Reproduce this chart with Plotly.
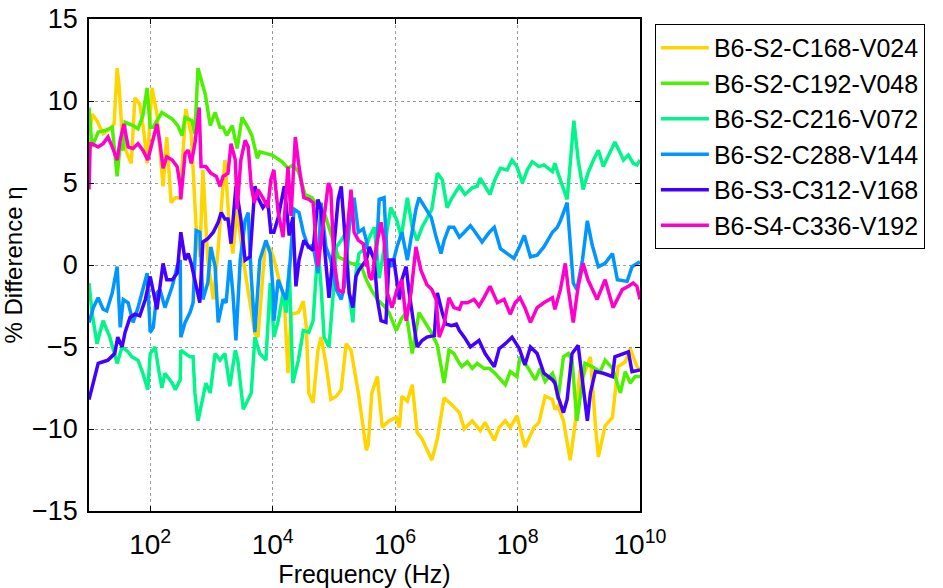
import plotly.graph_objects as go

# log10(frequency in Hz) and % difference values
lf_c168 = [1.00,1.05,1.13,1.23,1.34,1.41,1.46,1.49,1.54,1.60,1.69,1.75,1.83,1.90,1.95,2.03,2.11,2.16,2.21,2.27,2.34,2.41,2.49,2.58,2.67,2.75,2.81,2.86,2.94,3.03,3.11,3.22,3.29,3.35,3.42,3.52,3.71,3.76,3.88,3.96,4.01,4.09,4.19,4.25,4.30,4.42,4.50,4.55,4.59,4.66,4.74,4.79,4.87,4.95,5.04,5.12,5.20,5.28,5.40,5.53,5.56,5.62,5.71,5.79,5.90,6.02,6.07,6.11,6.20,6.28,6.36,6.44,6.52,6.60,6.69,6.80,6.92,7.05,7.13,7.26,7.39,7.47,7.62,7.70,7.80,7.88,7.99,8.12,8.27,8.35,8.45,8.57,8.61,8.66,8.75,8.86,8.94,9.02,9.07,9.19,9.27,9.32,9.43,9.55,9.64,9.76,9.84,9.95,10.00]
v_c168 = [7.5,9.2,8.8,8.0,8.3,8.6,12.0,11.0,8.0,7.0,6.2,10.2,9.8,8.0,6.2,10.8,9.2,7.0,4.8,7.8,3.8,4.1,4.1,9.5,8.0,2.3,0.5,5.8,0.3,-2.1,1.0,6.4,2.5,0.7,3.4,0.3,-4.2,-4.4,1.3,1.0,0.5,-0.7,-2.1,-6.6,-3.0,-2.9,-2.2,-3.8,-7.8,-8.4,-5.2,-4.4,-6.0,-8.2,-8.0,-7.6,-4.8,-5.2,-7.8,-11.3,-11.0,-7.8,-6.8,-9.9,-9.5,-9.3,-9.9,-8.0,-8.3,-7.3,-10.2,-10.6,-11.2,-11.9,-10.6,-8.1,-8.5,-9.0,-10.0,-9.5,-10.1,-9.6,-10.7,-9.9,-9.5,-9.9,-9.2,-11.1,-9.9,-9.6,-8.0,-8.2,-8.8,-8.6,-9.5,-11.9,-9.7,-6.4,-6.8,-5.6,-9.7,-11.7,-9.8,-9.3,-6.2,-5.9,-5.1,-6.2,-6.4]

lf_c192 = [1.00,1.05,1.15,1.26,1.38,1.46,1.51,1.56,1.59,1.72,1.80,1.88,1.95,2.00,2.05,2.19,2.36,2.45,2.52,2.57,2.68,2.73,2.78,2.90,2.98,3.06,3.14,3.19,3.25,3.34,3.42,3.50,3.58,3.66,3.75,3.79,3.99,4.15,4.25,4.33,4.42,4.53,4.64,4.76,4.86,5.07,5.23,5.28,5.44,5.53,5.61,5.71,5.82,5.90,6.02,6.10,6.18,6.28,6.39,6.47,6.59,6.69,6.80,6.88,6.96,7.05,7.09,7.18,7.26,7.34,7.45,7.54,7.63,7.80,7.88,7.99,8.04,8.16,8.29,8.37,8.45,8.57,8.61,8.66,8.75,8.83,8.89,8.97,9.02,9.10,9.22,9.35,9.43,9.55,9.68,9.76,9.84,9.92,10.00]
v_c192 = [9.6,7.2,8.1,8.2,8.4,5.4,7.4,7.0,8.7,8.5,8.3,9.1,10.8,8.4,8.4,9.3,8.9,8.5,7.9,9.0,8.8,8.0,12.0,10.4,8.5,9.3,8.4,8.4,7.9,8.5,7.1,9.0,8.5,7.9,6.5,6.9,6.7,6.3,5.9,6.1,5.7,4.3,4.1,3.5,3.0,0.5,0.2,0.1,0.0,-0.9,-1.5,-2.1,-2.5,-2.9,-4.0,-3.3,-2.9,-5.4,-2.9,-3.4,-4.1,-4.9,-7.2,-5.2,-5.4,-6.0,-6.2,-5.9,-6.3,-6.0,-6.3,-6.3,-6.6,-7.3,-6.5,-6.8,-5.6,-6.2,-7.0,-6.3,-7.1,-6.6,-7.0,-8.2,-5.6,-5.4,-5.8,-9.5,-8.2,-6.0,-6.2,-6.5,-5.8,-6.3,-7.8,-6.5,-7.2,-6.8,-6.8]

lf_c216 = [1.00,1.05,1.13,1.23,1.34,1.46,1.54,1.64,1.70,1.80,1.88,1.96,2.00,2.08,2.13,2.19,2.24,2.36,2.41,2.49,2.50,2.57,2.65,2.70,2.73,2.78,2.83,2.91,2.98,3.06,3.14,3.22,3.30,3.39,3.43,3.52,3.60,3.65,3.71,3.79,3.89,3.96,3.97,4.02,4.09,4.17,4.22,4.27,4.33,4.42,4.50,4.59,4.66,4.74,4.79,4.84,4.92,4.99,5.04,5.12,5.20,5.25,5.31,5.36,5.41,5.53,5.58,5.66,5.74,5.93,6.03,6.10,6.20,6.28,6.36,6.44,6.52,6.60,6.69,6.77,6.85,6.93,7.05,7.14,7.26,7.34,7.39,7.47,7.55,7.63,7.72,7.83,7.91,7.99,8.08,8.16,8.24,8.35,8.43,8.57,8.61,8.66,8.73,8.81,8.92,8.99,9.07,9.15,9.24,9.32,9.40,9.48,9.59,9.68,9.73,9.81,9.89,9.95,10.00]
v_c216 = [-1.1,-2.9,-4.8,-3.4,-4.4,-6.0,-5.0,-5.3,-5.6,-5.8,-6.6,-7.6,-5.4,-5.0,-6.2,-7.5,-6.6,-7.2,-7.6,-7.0,-5.2,-5.4,-5.6,-5.6,-7.8,-9.5,-8.7,-7.2,-7.8,-5.4,-5.8,-5.4,-7.4,-5.2,-5.8,-8.8,-8.2,-7.8,-4.4,-5.4,-5.8,-1.1,-1.3,-4.4,-3.4,-1.7,-2.9,-0.1,-7.2,-5.8,-4.0,-4.1,-3.4,1.1,-1.3,-4.4,-5.0,-1.7,1.1,1.5,2.0,-1.7,-3.5,-0.5,0.7,1.1,1.7,2.3,-0.8,3.5,2.7,1.7,4.1,2.3,1.5,2.3,2.9,3.4,5.6,5.2,3.5,4.1,4.8,4.3,4.7,4.8,5.3,4.8,4.3,5.2,5.9,5.8,6.4,6.0,5.0,5.8,6.3,6.0,6.1,5.7,6.2,5.6,4.8,4.0,8.8,6.4,4.6,5.6,6.4,7.0,6.0,6.6,7.5,6.8,6.4,6.7,6.2,6.1,6.4]

lf_c288 = [1.00,1.07,1.15,1.23,1.29,1.38,1.46,1.51,1.56,1.64,1.72,1.80,1.95,2.00,2.05,2.11,2.16,2.24,2.36,2.44,2.49,2.50,2.57,2.65,2.70,2.75,2.81,2.86,2.94,2.99,3.06,3.11,3.19,3.24,3.30,3.35,3.40,3.47,3.55,3.60,3.65,3.71,3.79,3.89,3.96,4.01,4.02,4.09,4.17,4.22,4.27,4.35,4.43,4.50,4.58,4.66,4.74,4.79,4.87,4.95,5.04,5.12,5.17,5.25,5.33,5.40,5.48,5.53,5.54,5.61,5.69,5.74,5.82,5.87,5.95,6.03,6.11,6.20,6.26,6.34,6.39,6.47,6.59,6.67,6.75,6.80,6.88,6.96,7.05,7.13,7.23,7.31,7.42,7.54,7.62,7.72,7.80,7.94,8.03,8.11,8.21,8.32,8.43,8.57,8.65,8.70,8.81,8.86,8.91,8.97,9.06,9.14,9.22,9.32,9.43,9.55,9.63,9.79,9.87,10.00]
v_c288 = [-3.5,-2.6,-2.0,-2.7,-2.8,-1.7,-0.1,-3.8,-2.1,-2.3,-3.5,-2.6,-0.5,-4.1,-3.8,-1.7,-1.5,-2.6,-1.3,-0.1,0.3,-4.4,-3.5,-2.9,-2.3,2.1,2.0,-2.1,-1.1,1.1,-0.1,-3.5,-2.1,-2.3,0.3,-1.7,-4.6,0.3,2.7,3.2,-0.7,-4.1,0.3,1.5,0.7,-1.7,-3.4,-0.9,-1.7,-2.1,-0.5,3.4,3.2,2.0,1.1,1.2,-0.5,3.8,1.1,0.3,-1.5,-2.1,-1.3,2.3,4.1,2.0,2.2,1.5,1.1,0.7,0.3,4.0,4.1,0.3,-0.1,1.1,2.0,0.3,1.7,3.4,4.1,3.6,2.9,1.7,0.7,1.5,2.3,2.3,1.7,2.0,2.4,2.0,1.4,2.0,2.3,1.0,0.8,0.4,1.1,1.8,0.5,0.6,1.1,2.0,2.3,2.7,3.8,1.1,-1.1,-1.5,0.3,2.7,1.2,-0.1,0.1,0.7,-0.9,-1.0,-0.1,0.2]

lf_c312 = [1.00,1.07,1.15,1.23,1.31,1.42,1.47,1.54,1.59,1.67,1.75,1.83,1.92,2.00,2.05,2.11,2.16,2.21,2.27,2.36,2.44,2.49,2.50,2.57,2.62,2.67,2.75,2.81,2.86,2.94,3.03,3.11,3.16,3.22,3.27,3.32,3.40,3.48,3.55,3.63,3.71,3.76,3.84,3.92,3.97,4.02,4.09,4.19,4.27,4.33,4.38,4.43,4.51,4.59,4.66,4.74,4.79,4.87,4.92,5.00,5.07,5.12,5.17,5.25,5.31,5.36,5.41,5.53,5.58,5.66,5.71,5.77,5.85,5.90,5.98,6.07,6.11,6.18,6.23,6.28,6.36,6.44,6.52,6.64,6.69,6.77,6.83,6.92,7.00,7.05,7.13,7.23,7.37,7.47,7.62,7.70,7.80,7.91,8.03,8.12,8.21,8.32,8.43,8.57,8.61,8.66,8.75,8.81,8.89,8.99,9.06,9.14,9.19,9.27,9.40,9.55,9.59,9.73,9.81,9.87,10.00]
v_c312 = [-8.2,-7.2,-6.0,-5.9,-5.8,-5.4,-4.4,-5.0,-4.1,-3.2,-3.0,-3.1,-2.1,-0.7,-1.7,-2.7,-1.3,0.1,-0.9,-0.9,-0.5,1.5,2.0,0.3,0.7,0.1,-1.3,-2.3,1.4,1.6,2.0,2.6,3.2,2.8,2.8,1.3,4.8,2.8,0.3,0.5,4.8,4.1,3.5,3.9,2.0,2.0,2.9,4.8,1.8,2.9,-1.3,0.3,1.5,1.1,0.9,4.0,3.4,0.3,-2.0,1.1,4.0,4.8,2.3,-1.7,-2.6,-0.7,-0.3,0.3,1.1,0.3,-2.1,-3.4,-3.5,0.3,0.3,-2.1,-0.9,-0.1,-1.7,-2.9,-5.0,-4.6,-4.4,-4.3,-1.7,-2.9,-3.6,-3.7,-3.6,-4.0,-4.4,-5.0,-4.6,-5.4,-6.2,-5.1,-4.8,-4.4,-5.1,-6.1,-5.0,-5.4,-6.6,-7.0,-7.2,-8.0,-9.0,-8.2,-5.4,-4.9,-7.0,-9.5,-7.8,-6.5,-6.6,-6.8,-5.6,-5.4,-5.3,-6.5,-6.4]

lf_c336 = [1.00,1.02,1.05,1.15,1.23,1.31,1.38,1.46,1.51,1.57,1.64,1.72,1.80,1.88,1.96,2.05,2.11,2.16,2.21,2.27,2.36,2.44,2.49,2.50,2.57,2.62,2.67,2.73,2.80,2.83,2.91,2.99,3.08,3.14,3.19,3.27,3.32,3.39,3.42,3.48,3.55,3.60,3.65,3.70,3.76,3.84,3.92,3.97,4.02,4.09,4.17,4.25,4.30,4.37,4.43,4.51,4.59,4.66,4.74,4.82,4.91,4.95,5.00,5.07,5.15,5.20,5.28,5.33,5.40,5.48,5.53,5.54,5.58,5.62,5.69,5.77,5.82,5.87,5.95,6.03,6.11,6.18,6.26,6.34,6.42,6.52,6.60,6.67,6.72,6.80,6.88,6.96,7.05,7.09,7.18,7.29,7.37,7.45,7.55,7.67,7.78,7.88,7.96,8.04,8.12,8.21,8.32,8.43,8.57,8.61,8.70,8.78,8.83,8.91,8.99,9.07,9.15,9.30,9.43,9.56,9.71,9.81,9.89,9.95,10.00]
v_c336 = [4.6,7.4,7.4,7.2,7.4,7.8,7.2,6.4,7.6,8.6,7.2,7.1,7.4,7.0,6.4,7.8,8.6,7.4,5.9,6.6,6.4,6.0,4.8,4.0,6.8,7.0,6.2,7.4,9.6,6.0,6.0,5.6,5.4,4.8,5.4,5.6,7.4,6.4,3.4,6.4,7.6,7.2,4.8,3.8,4.6,4.1,3.5,5.2,5.8,3.2,1.7,6.0,3.0,7.8,6.0,4.1,4.0,3.8,-0.1,2.3,5.0,4.6,0.3,-1.5,-1.7,1.3,4.6,2.0,1.5,1.3,-0.1,0.3,-0.7,-0.9,1.1,2.6,1.5,-1.7,-2.6,-1.5,-0.9,-3.4,-1.7,1.1,-0.3,-1.2,-1.5,-2.1,-4.4,-3.6,-2.0,-2.6,-2.7,-2.3,-2.3,-2.1,-2.5,-2.0,-1.3,-2.3,-2.1,-3.0,-2.3,-2.0,-2.6,-3.5,-2.6,-2.3,-2.0,-2.7,-1.5,0.1,-1.5,-3.5,-1.3,0.1,-0.9,-2.1,-0.9,-2.6,-1.5,-1.3,-1.1,-1.3,-2.1]

names = ["B6-S2-C168-V024", "B6-S2-C192-V048", "B6-S2-C216-V072",
         "B6-S2-C288-V144", "B6-S3-C312-V168", "B6-S4-C336-V192"]
colors = ["#FFD500", "#4CF000", "#00F58A", "#0095FF", "#4400FF", "#FF00CC"]
series = [(lf_c168, v_c168), (lf_c192, v_c192), (lf_c216, v_c216),
          (lf_c288, v_c288), (lf_c312, v_c312), (lf_c336, v_c336)]

x_tickvals = [1e2, 1e4, 1e6, 1e8, 1e10]
x_ticktext = ["10<sup>2</sup>", "10<sup>4</sup>", "10<sup>6</sup>", "10<sup>8</sup>", "10<sup>10</sup>"]
y_tickvals = [-15, -10, -5, 0, 5, 10, 15]

fig = go.Figure()
for i, (name, col, (lf, v)) in enumerate(zip(names, colors, series)):
    fig.add_trace(go.Scatter(
        x=[10 ** e for e in lf], y=v, mode="lines", name=name,
        line=dict(color=col, width=3.5), legendgroup="g%d" % i))

font = "Arial, 'Liberation Sans', sans-serif"
fig.update_layout(
    width=943, height=588,
    margin=dict(l=89, r=303, t=19, b=77),
    paper_bgcolor="white", plot_bgcolor="white",
    font=dict(family=font, size=24, color="black"),
    showlegend=True,
    legend=dict(x=1.027, y=0.99, xanchor="left", yanchor="top",
                bordercolor="black", borderwidth=1, bgcolor="white",
                font=dict(size=25), itemwidth=48, tracegroupgap=0,
                traceorder="normal"),
)
fig.update_xaxes(
    type="log", range=[1, 10], tickvals=x_tickvals, ticktext=x_ticktext,
    showgrid=True, gridcolor="#9a9a9a", griddash="dot", gridwidth=1,
    showline=True, linecolor="black", linewidth=1.5, mirror="ticks",
    ticks="inside", ticklen=5, tickcolor="black", automargin=False,
    tickfont=dict(size=28), ticklabelstandoff=8,
    title=dict(text="Frequency (Hz)", font=dict(size=25), standoff=0),
    zeroline=False)
fig.update_yaxes(
    range=[-15, 15], tickvals=y_tickvals,
    showgrid=True, gridcolor="#9a9a9a", griddash="dot", gridwidth=1,
    showline=True, linecolor="black", linewidth=1.5, mirror="ticks",
    ticks="inside", ticklen=5, tickcolor="black", automargin=False,
    tickfont=dict(size=27), ticklabelstandoff=4,
    title=dict(text="% Difference η", font=dict(size=24), standoff=4),
    zeroline=False)

fig.write_html("out.html")
